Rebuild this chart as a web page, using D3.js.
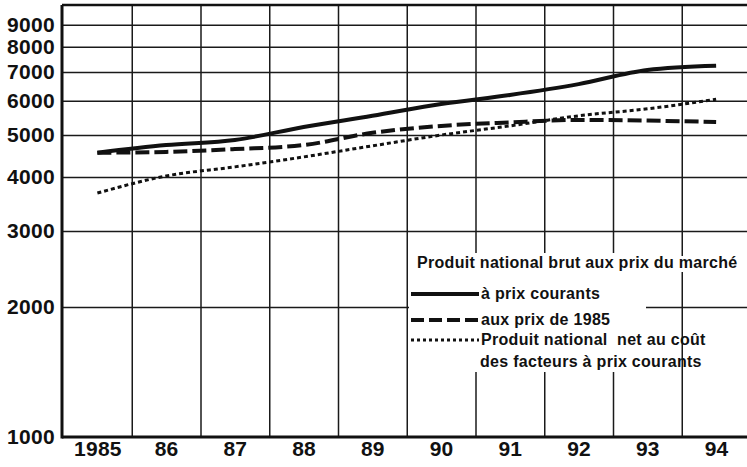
<!DOCTYPE html>
<html>
<head>
<meta charset="utf-8">
<script src="https://cdn.jsdelivr.net/npm/d3@7"></script>
<style>
  body { margin: 0; background: #fff; }
  svg { display: block; font-family: "Liberation Sans", Arial, sans-serif; }
  .grid line { stroke: #1a1a1a; stroke-width: 1.5; }
  .grid path { display: none; }
  .lbl text { font-weight: bold; font-size: 21px; fill: #111; letter-spacing: 0.3px; }
  .lbl path, .lbl line { display: none; }
  .legend text { font-weight: bold; font-size: 16px; fill: #111; letter-spacing: 0.3px; }
  .series { fill: none; stroke: #111; }
</style>
</head>
<body>
<div id="chart"></div>
<script>
var years = [1985, 1986, 1987, 1988, 1989, 1990, 1991, 1992, 1993, 1994];
var yearLabels = ["1985", "86", "87", "88", "89", "90", "91", "92", "93", "94"];
var yTicks = [1000, 2000, 3000, 4000, 5000, 6000, 7000, 8000, 9000];

// Produit national brut aux prix du marché, à prix courants
var pnbCourants = [4550, 4740, 4870, 5220, 5540, 5900, 6190, 6560, 7070, 7230];
// Produit national brut aux prix de 1985
var pnb1985 = [4550, 4570, 4640, 4740, 5060, 5250, 5350, 5420, 5400, 5360];
// Produit national net au coût des facteurs à prix courants
var pnnFacteurs = [3670, 4020, 4220, 4450, 4720, 5000, 5250, 5540, 5750, 6050];

var width = 747, height = 467;
var margin = {left: 62, top: 5, right: 0, bottom: 30};

var svg = d3.select("#chart").append("svg")
    .attr("width", width).attr("height", height);

var x = d3.scaleLinear()
    .domain([1984.5, 1994.5])
    .range([63, 750.5]);

var y = d3.scaleLog()
    .domain([1000, 10000])
    .range([437, 5]);

// vertical grid at year boundaries
var bounds = years.slice(0, -1).map(function(d) { return d + 0.5; });
svg.append("g").attr("class", "grid")
    .attr("transform", "translate(0,437)")
    .call(d3.axisBottom(x).tickValues(bounds).tickSize(-432).tickFormat(""));

// horizontal grid
svg.append("g").attr("class", "grid")
    .attr("transform", "translate(" + margin.left + ",0)")
    .call(d3.axisLeft(y).tickValues(yTicks.slice(1)).tickSize(-(width - margin.left)).tickFormat(""));

// top border (10000)
svg.append("line")
    .attr("x1", margin.left).attr("x2", width)
    .attr("y1", y(10000)).attr("y2", y(10000))
    .attr("stroke", "#111").attr("stroke-width", 2.5);

// legend background hiding the grid
var legend = svg.append("g").attr("class", "legend");
legend.append("rect")
    .attr("x", 409).attr("y", 253).attr("width", 237).attr("height", 119)
    .attr("fill", "#fff");
legend.append("rect")
    .attr("x", 646).attr("y", 256).attr("width", 90).attr("height", 16)
    .attr("fill", "#fff");

var line = d3.line()
    .x(function(d, i) { return x(years[i]); })
    .y(function(d) { return y(d); })
    .curve(d3.curveMonotoneX);

svg.append("path").datum(pnbCourants).attr("class", "series")
    .attr("d", line).attr("stroke-width", 4);
svg.append("path").datum(pnb1985).attr("class", "series")
    .attr("d", line).attr("stroke-width", 4).attr("stroke-dasharray", "14,5");
svg.append("path").datum(pnnFacteurs).attr("class", "series")
    .attr("d", line).attr("stroke-width", 3).attr("stroke-dasharray", "4,3");

// axes frame
svg.append("line")
    .attr("x1", margin.left).attr("x2", margin.left)
    .attr("y1", y(10000)).attr("y2", y(1000) + 1.5)
    .attr("stroke", "#111").attr("stroke-width", 3);
svg.append("line")
    .attr("x1", margin.left).attr("x2", width)
    .attr("y1", y(1000)).attr("y2", y(1000))
    .attr("stroke", "#111").attr("stroke-width", 3);

// tick labels
svg.append("g").attr("class", "lbl")
    .attr("transform", "translate(" + (margin.left - 1) + ",0)")
    .call(d3.axisLeft(y).tickValues(yTicks).tickSize(0).tickPadding(6)
        .tickFormat(d3.format("d")));

svg.append("g").attr("class", "lbl")
    .attr("transform", "translate(0,437)")
    .call(d3.axisBottom(x).tickValues(years).tickSize(0).tickPadding(4)
        .tickFormat(function(d, i) { return yearLabels[i]; }));

// legend
legend.append("text").attr("x", 417).attr("y", 268)
    .text("Produit national brut aux prix du marché");

var items = [
  {label: "à prix courants", dash: null, w: 4, y: 294},
  {label: "aux prix de 1985", dash: "13,5", w: 4, y: 320},
  {label: "Produit national  net au coût", dash: "3,3", w: 3, y: 340}
];
items.forEach(function(it) {
  legend.append("line")
      .attr("x1", 411).attr("x2", 479)
      .attr("y1", it.y).attr("y2", it.y)
      .attr("stroke", "#111").attr("stroke-width", it.w)
      .attr("stroke-dasharray", it.dash);
  legend.append("text").attr("x", 481).attr("y", it.y + 5)
      .attr("xml:space", "preserve")
      .text(it.label);
});
legend.append("text").attr("x", 480).attr("y", 367)
    .text("des facteurs à prix courants");
</script>
</body>
</html>
